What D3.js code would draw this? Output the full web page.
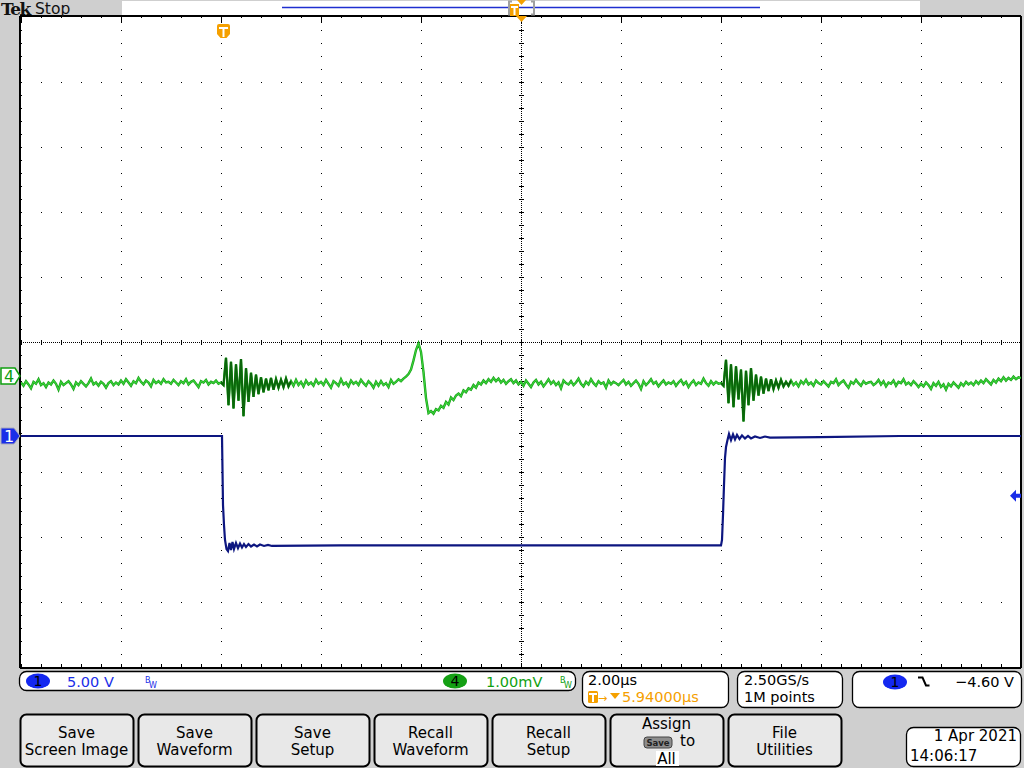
<!DOCTYPE html>
<html>
<head>
<meta charset="utf-8">
<script src="https://cdn.jsdelivr.net/npm/d3@7"></script>
<style>
  body { margin: 0; background: #cfcfcf; }
  svg { display: block; font-family: "DejaVu Sans", sans-serif; }
</style>
</head>
<body>
<div id="scope"></div>
<script>
// horizontal settings
var timePerDiv = 2.0;      // us / div
var timeOffset = 5.94;     // us, trigger to centre
var sampleRate = "2.50GS/s";
var recordLength = "1M points";

// channel settings
var ch1VoltsPerDiv = 5.0;
var ch1OffsetDiv = -1.446;
var ch4MvPerDiv = 1.0;
var ch4OffsetDiv = -0.523;
var triggerLevel = -4.60;

// channel 1 (V) vs time (us)
var ch1Time = [-4.06, -0.04, -0.02, 0.00, 0.02, 0.05, 0.08, 0.11, 0.14, 0.17, 0.20, 0.24, 0.28, 0.32, 0.36,
  0.40, 0.44, 0.49, 0.54, 0.60, 0.66, 0.72, 0.80, 0.88, 0.96, 2.32, 9.94, 9.96, 9.98, 10.00, 10.02, 10.04,
  10.07, 10.10, 10.14, 10.18, 10.22, 10.26, 10.31, 10.36, 10.42, 10.48, 10.54, 10.62, 10.72, 10.82, 10.92,
  11.92, 13.52, 15.94];
var ch1Volts = [0, 0, -5.31, -6.85, -8.00, -8.69, -8.85, -8.23, -8.77, -8.15, -8.69, -8.23, -8.62, -8.27, -8.58,
  -8.31, -8.54, -8.31, -8.50, -8.35, -8.50, -8.35, -8.46, -8.38, -8.46, -8.42, -8.42, -8.00, -6.08, -3.77, -1.69, -0.85,
  -0.31, 0.15, -0.31, 0.12, -0.27, 0.08, -0.23, 0.04, -0.19, 0.00, -0.19, -0.04, -0.15, -0.04, -0.12,
  -0.08, 0.00, 0.00];

// channel 4 (mV), evenly sampled
var ch4Start = -4.06;
var ch4Step = 0.05;
var ch4Mv = [
  -0.10,-0.15,-0.08,-0.13,-0.19,-0.09,-0.12,-0.05,-0.14,-0.11,-0.17,-0.10,-0.13,-0.07,-0.12,-0.21,-0.09,-0.14,-0.11,-0.08,
  -0.13,-0.20,-0.10,-0.14,-0.08,-0.12,-0.16,-0.11,-0.04,-0.13,-0.10,-0.15,-0.09,-0.12,-0.18,-0.11,-0.08,-0.14,-0.10,-0.13,
  -0.07,-0.12,-0.05,-0.10,-0.15,-0.08,-0.11,-0.03,-0.09,-0.13,-0.07,-0.10,-0.16,-0.06,-0.11,-0.08,-0.12,-0.05,-0.10,-0.09,
  -0.12,-0.06,-0.10,-0.14,-0.08,-0.11,-0.05,-0.13,-0.09,-0.07,-0.12,-0.17,-0.08,-0.10,-0.06,-0.13,-0.09,-0.11,-0.07,-0.12,
  -0.10,-0.14,0.28,-0.45,0.22,-0.50,0.18,-0.38,0.26,-0.62,0.12,-0.40,0.05,-0.32,0.02,-0.28,-0.02,-0.25,-0.04,-0.22,
  -0.03,-0.21,-0.05,-0.18,-0.06,-0.17,-0.04,-0.16,-0.08,-0.15,-0.06,-0.14,-0.09,-0.16,-0.07,-0.13,-0.10,-0.15,-0.06,-0.12,
  -0.09,-0.14,-0.06,-0.12,-0.18,-0.08,-0.11,-0.15,-0.05,-0.13,-0.10,-0.16,-0.07,-0.12,-0.09,-0.14,-0.06,-0.11,-0.15,-0.08,
  -0.12,-0.18,-0.09,-0.15,-0.08,-0.14,-0.11,-0.17,-0.06,-0.12,-0.09,-0.05,-0.08,-0.04,-0.01,0.03,0.10,0.24,0.40,0.50,
  0.37,0.06,-0.34,-0.57,-0.54,-0.58,-0.51,-0.53,-0.46,-0.49,-0.40,-0.44,-0.33,-0.37,-0.30,-0.27,-0.31,-0.22,-0.25,-0.19,
  -0.21,-0.14,-0.18,-0.10,-0.13,-0.07,-0.11,-0.05,-0.09,-0.03,-0.08,-0.04,-0.10,-0.06,-0.12,-0.08,-0.05,-0.11,-0.07,-0.13,
  -0.09,-0.15,-0.07,-0.12,-0.17,-0.10,-0.06,-0.13,-0.09,-0.16,-0.11,-0.05,-0.12,-0.08,-0.14,-0.10,-0.19,-0.07,-0.11,-0.13,
  -0.08,-0.14,-0.10,-0.04,-0.12,-0.16,-0.09,-0.13,-0.05,-0.11,-0.15,-0.08,-0.12,-0.10,-0.18,-0.07,-0.13,-0.09,-0.11,-0.14,
  -0.10,-0.06,-0.13,-0.09,-0.15,-0.11,-0.07,-0.12,-0.20,-0.08,-0.14,-0.10,-0.05,-0.12,-0.09,-0.16,-0.11,-0.07,-0.13,-0.10,
  -0.12,-0.08,-0.15,-0.10,-0.06,-0.13,-0.09,-0.17,-0.11,-0.07,-0.14,-0.10,-0.12,-0.04,-0.11,-0.15,-0.08,-0.13,-0.09,-0.12,
  -0.11,-0.15,0.25,-0.42,0.18,-0.48,0.15,-0.36,0.10,-0.70,0.08,-0.45,0.12,-0.38,0.02,-0.30,-0.01,-0.27,-0.04,-0.23,
  -0.05,-0.20,-0.07,-0.18,-0.06,-0.16,-0.09,-0.15,-0.07,-0.14,-0.10,-0.16,-0.08,-0.12,-0.06,-0.13,-0.10,-0.15,-0.07,-0.11,
  -0.13,-0.08,-0.12,-0.16,-0.09,-0.11,-0.05,-0.14,-0.10,-0.07,-0.13,-0.18,-0.09,-0.12,-0.06,-0.11,-0.15,-0.08,-0.12,-0.10,
  -0.09,-0.14,-0.11,-0.06,-0.13,-0.08,-0.16,-0.10,-0.12,-0.07,-0.15,-0.09,-0.11,-0.05,-0.13,-0.10,-0.14,-0.08,-0.12,-0.17,
  -0.12,-0.16,-0.10,-0.14,-0.20,-0.11,-0.15,-0.09,-0.17,-0.13,-0.21,-0.12,-0.16,-0.10,-0.14,-0.18,-0.11,-0.15,-0.09,-0.13,
  -0.10,-0.14,-0.08,-0.12,-0.07,-0.11,-0.05,-0.09,-0.13,-0.06,-0.10,-0.04,-0.08,-0.02,-0.07,-0.03,-0.06,-0.01,-0.05,-0.02,
  -0.03];
var ch4Bursts = [[80, 108], [280, 308]];   // sample index ranges drawn darker

var buttonLabels = [["Save", "Screen Image"], ["Save", "Waveform"], ["Save", "Setup"],
  ["Recall", "Waveform"], ["Recall", "Setup"], ["Assign", "to", "All"], ["File", "Utilities"]];
var dateText = ["1 Apr 2021", "14:06:17"];

var orange = "#f5a000", blue = "#1a2ee8", green = "#10a010";

// plot area (window.top is reserved, so use p* names)
var pLeft = 21, pRight = 1021, pTop = 17, pBottom = 667;
var divsX = 10, divsY = 10;
var cx = (pLeft + pRight) / 2, cy = (pTop + pBottom) / 2;

var x = d3.scaleLinear()
  .domain([timeOffset - timePerDiv * divsX / 2, timeOffset + timePerDiv * divsX / 2])
  .range([pLeft, pRight]);
var y1 = d3.scaleLinear()
  .domain([(-divsY / 2 - ch1OffsetDiv) * ch1VoltsPerDiv, (divsY / 2 - ch1OffsetDiv) * ch1VoltsPerDiv])
  .range([pBottom, pTop]);
var y4 = d3.scaleLinear()
  .domain([(-divsY / 2 - ch4OffsetDiv) * ch4MvPerDiv, (divsY / 2 - ch4OffsetDiv) * ch4MvPerDiv])
  .range([pBottom, pTop]);

var svg = d3.select("#scope").append("svg")
  .attr("width", 1024)
  .attr("height", 768);

svg.append("rect").attr("width", 1024).attr("height", 768).attr("fill", "#cfcfcf");

//Plot background
svg.append("rect")
  .attr("x", pLeft).attr("y", pTop - 1)
  .attr("width", pRight - pLeft).attr("height", pBottom - pTop + 1)
  .attr("fill", "#fff");

//Graticule dots
var grid = svg.append("g").attr("shape-rendering", "crispEdges").attr("fill", "#000");
d3.range(divsY + 1).forEach(function (k) {
  var gy = pTop + k * (pBottom - pTop) / divsY;
  grid.selectAll(null).data(d3.range(0, divsX * 5 + 1)).enter().append("rect")
    .attr("x", function (j) { return pLeft + j * (pRight - pLeft) / (divsX * 5); })
    .attr("y", gy).attr("width", 1).attr("height", 1);
});
d3.range(divsX + 1).forEach(function (k) {
  var gx = pLeft + k * (pRight - pLeft) / divsX;
  grid.selectAll(null).data(d3.range(0, divsY * 5 + 1)).enter().append("rect")
    .attr("x", gx).attr("y", function (j) { return pTop + j * (pBottom - pTop) / (divsY * 5); })
    .attr("width", 1).attr("height", 1);
});

//Centre cross
grid.append("line").attr("x1", pLeft).attr("x2", pRight).attr("y1", cy + 0.5).attr("y2", cy + 0.5)
  .attr("stroke", "#000").attr("stroke-dasharray", "1,1");
grid.append("line").attr("x1", cx + 0.5).attr("x2", cx + 0.5).attr("y1", pTop).attr("y2", pBottom)
  .attr("stroke", "#000").attr("stroke-dasharray", "1,1");
grid.selectAll(null).data(d3.range(0, divsX * 5 + 1)).enter().append("rect")
  .attr("x", function (j) { return pLeft + j * (pRight - pLeft) / (divsX * 5); })
  .attr("y", cy - 2).attr("width", 1).attr("height", 5);
grid.selectAll(null).data(d3.range(0, divsY * 5 + 1)).enter().append("rect")
  .attr("x", cx - 2).attr("y", function (j) { return pTop + j * (pBottom - pTop) / (divsY * 5); })
  .attr("width", 5).attr("height", 1);

//Edge ticks
grid.selectAll(null).data(d3.range(0, divsX * 5 + 1)).enter().append("rect")
  .attr("x", function (j) { return pLeft + j * (pRight - pLeft) / (divsX * 5); })
  .attr("y", pBottom - 3).attr("width", 1).attr("height", 3);
grid.selectAll(null).data(d3.range(0, divsX + 1)).enter().append("rect")
  .attr("x", function (j) { return pLeft + j * (pRight - pLeft) / divsX; })
  .attr("y", pTop).attr("width", 1).attr("height", 6);

//Frame
svg.append("g").attr("stroke", "#000").attr("stroke-width", 1.5).attr("shape-rendering", "crispEdges")
  .call(function (f) {
    f.append("line").attr("x1", pLeft - 1).attr("x2", pLeft - 1).attr("y1", pTop - 1).attr("y2", pBottom + 1);
    f.append("line").attr("x1", pRight).attr("x2", pRight).attr("y1", pTop - 1).attr("y2", pBottom + 1);
    f.append("line").attr("x1", pLeft - 1).attr("x2", pRight).attr("y1", pTop - 1).attr("y2", pTop - 1);
    f.append("line").attr("x1", pLeft - 1).attr("x2", pRight).attr("y1", pBottom + 1).attr("y2", pBottom + 1);
  });

//Traces
svg.append("clipPath").attr("id", "plotclip").append("rect")
  .attr("x", pLeft).attr("y", pTop).attr("width", pRight - pLeft).attr("height", pBottom - pTop);
var traces = svg.append("g").attr("clip-path", "url(#plotclip)");

var line4 = d3.line()
  .x(function (d) { return x(ch4Start + d.i * ch4Step); })
  .y(function (d) { return y4(d.v); });
var ch4Points = ch4Mv.map(function (v, i) { return {i: i, v: v}; });
traces.append("path")
  .attr("d", line4(ch4Points))
  .attr("fill", "none").attr("stroke", "#17a017").attr("stroke-width", 2.4);
traces.append("path")
  .attr("d", line4(ch4Points))
  .attr("fill", "none").attr("stroke", "#3ad23a").attr("stroke-width", 1.1);
ch4Bursts.forEach(function (r) {
  traces.append("path")
    .attr("d", line4(ch4Points.slice(r[0], r[1] + 1)))
    .attr("fill", "none").attr("stroke", "#0b650b").attr("stroke-width", 2);
});

var line1 = d3.line()
  .x(function (d) { return x(d[0]); })
  .y(function (d) { return y1(d[1]); });
traces.append("path")
  .attr("d", line1(d3.zip(ch1Time, ch1Volts)))
  .attr("fill", "none").attr("stroke", "#0d1680").attr("stroke-width", 2.2);

//Channel ground markers
var g4 = y4(0), g1 = y1(0);
svg.append("path")
  .attr("d", "M1," + (g4 - 8) + "h14l5,8l-5,8h-14z")
  .attr("fill", "#fff").attr("stroke", green).attr("stroke-width", 1.5);
svg.append("text").attr("x", 9).attr("y", g4 + 6).attr("text-anchor", "middle")
  .attr("font-size", 16).attr("fill", green).text("4");
svg.append("path")
  .attr("d", "M1," + (g1 - 8) + "h13l6,8l-6,8h-13z")
  .attr("fill", blue).attr("stroke", "#aab").attr("stroke-width", 1);
svg.append("text").attr("x", 9).attr("y", g1 + 6).attr("text-anchor", "middle")
  .attr("font-size", 16).attr("fill", "#fff").text("1");

//Trigger level arrow
var ty = y1(triggerLevel);
svg.append("path")
  .attr("d", "M" + (pRight - 11) + "," + ty + "l6,-6v4h5v4h-5v4z")
  .attr("fill", blue);

//Trigger position marker
var tx = Math.round(x(0)) - 1;
svg.append("path")
  .attr("d", "M" + (tx - 6) + ",26q0,-2 2,-2h9q2,0 2,2v8l-3.5,4h-6l-3.5,-4z")
  .attr("fill", orange);
svg.append("path")
  .attr("d", "M" + (tx - 4) + ",27h9v2h-3.5v8h-2v-8h-3.5z")
  .attr("fill", "#fff");

//Top bar: record view
svg.append("rect").attr("x", 122).attr("y", 1).attr("width", 798).attr("height", 14).attr("fill", "#fff");
svg.append("line").attr("x1", 282).attr("x2", 760).attr("y1", 7.5).attr("y2", 7.5)
  .attr("stroke", "#1f2fd0").attr("stroke-width", 1.5);
svg.append("path").attr("d", "M512,1.5h-3v13h3M531,1.5h3v13h-3")
  .attr("fill", "none").attr("stroke", "#a0a0a0").attr("stroke-width", 2);
svg.append("rect").attr("x", 510).attr("y", 4).attr("width", 9).attr("height", 12).attr("fill", orange);
svg.append("path").attr("d", "M511,6h7v2h-2.5v7h-2v-7h-2.5z").attr("fill", "#fff");
svg.append("path").attr("d", "M517,0h9l-4.5,5z").attr("fill", orange);
svg.append("path").attr("d", "M" + (cx - 5) + ",16h11l-5.5,6z").attr("fill", orange);

svg.append("text").attr("x", 1).attr("y", 15)
  .attr("font-family", "DejaVu Serif").attr("font-weight", "bold").attr("font-size", 17)
  .attr("letter-spacing", -1.5).attr("fill", "#111").text("Tek");
svg.append("text").attr("x", 35).attr("y", 14).attr("font-size", 15.5).attr("fill", "#111").text("Stop");

//Status readouts
function box(x0, y0, w, h) {
  return svg.append("rect").attr("x", x0 + 0.5).attr("y", y0 + 0.5).attr("width", w).attr("height", h)
    .attr("rx", 7).attr("fill", "#fff").attr("stroke", "#000").attr("stroke-width", 1.3);
}
function badge(bx, by, label, fill) {
  svg.append("ellipse").attr("cx", bx).attr("cy", by).attr("rx", 12).attr("ry", 7.5).attr("fill", fill);
  svg.append("text").attr("x", bx).attr("y", by + 5).attr("text-anchor", "middle")
    .attr("font-size", 14).attr("fill", "#000").text(label);
}
function bw(bx, col) {
  svg.append("text").attr("x", bx).attr("y", 683).attr("font-size", 8).attr("fill", col).text("B");
  svg.append("text").attr("x", bx + 4).attr("y", 688).attr("font-size", 8).attr("fill", col).text("W");
}

box(19, 671, 556, 19);
badge(38, 681, "1", "#1428f0");
svg.append("text").attr("x", 67).attr("y", 687).attr("font-size", 14.5).attr("fill", blue)
  .text(ch1VoltsPerDiv.toFixed(2) + " V");
bw(145, blue);
badge(455, 681, "4", "#14a014");
svg.append("text").attr("x", 486).attr("y", 687).attr("font-size", 14.5).attr("fill", green)
  .text(ch4MvPerDiv.toFixed(2) + "mV");
bw(560, green);

box(582, 671, 146, 36);
svg.append("text").attr("x", 588).attr("y", 685).attr("font-size", 14.5).attr("fill", "#000")
  .text(timePerDiv.toFixed(2) + "µs");
svg.append("rect").attr("x", 588).attr("y", 691).attr("width", 10).attr("height", 12).attr("rx", 1.5).attr("fill", orange);
svg.append("path").attr("d", "M589,693h8v2h-3v7h-2v-7h-3z").attr("fill", "#fff");
svg.append("text").attr("x", 598).attr("y", 702).attr("font-size", 11).attr("fill", orange).text("→");
svg.append("path").attr("d", "M610,693h10l-5,6z").attr("fill", orange);
svg.append("text").attr("x", 622).attr("y", 702).attr("font-size", 14.5).attr("fill", orange)
  .text(timeOffset.toFixed(5) + "µs");

box(737, 671, 105, 36);
svg.append("text").attr("x", 744).attr("y", 685).attr("font-size", 14.5).attr("fill", "#000").text(sampleRate);
svg.append("text").attr("x", 744).attr("y", 702).attr("font-size", 14.5).attr("fill", "#000").text(recordLength);

box(852, 671, 169, 36);
badge(895, 682, "1", "#1428f0");
svg.append("path").attr("d", "M918,677.5h4.5l3.5,8h3.5").attr("fill", "none").attr("stroke", "#000").attr("stroke-width", 2);
svg.append("text").attr("x", 1014).attr("y", 687).attr("text-anchor", "end").attr("font-size", 14.5)
  .attr("fill", "#000").text("\u2212" + Math.abs(triggerLevel).toFixed(2) + " V");

//Menu buttons
var buttons = svg.append("g");
buttonLabels.forEach(function (lab, i) {
  var bx = 20 + i * 118, bwid = 113;
  buttons.append("rect").attr("x", bx + 0.5).attr("y", 714.5).attr("width", bwid).attr("height", 52)
    .attr("rx", 6).attr("fill", "#e8e8e8").attr("stroke", "#000").attr("stroke-width", 2);
  var mid = bx + bwid / 2;
  if (lab.length === 2) {
    buttons.append("text").attr("x", mid).attr("y", 738).attr("text-anchor", "middle").attr("font-size", 15).text(lab[0]);
    buttons.append("text").attr("x", mid).attr("y", 755).attr("text-anchor", "middle").attr("font-size", 15).text(lab[1]);
  } else {
    buttons.append("text").attr("x", mid).attr("y", 729).attr("text-anchor", "middle").attr("font-size", 15).text(lab[0]);
    buttons.append("rect").attr("x", 644).attr("y", 737).attr("width", 28).attr("height", 11).attr("rx", 3)
      .attr("fill", "#8d8d8d").attr("stroke", "#444");
    buttons.append("text").attr("x", 658).attr("y", 746).attr("text-anchor", "middle").attr("font-size", 8.5)
      .attr("font-weight", "bold").attr("fill", "#222").text("Save");
    buttons.append("text").attr("x", 680).attr("y", 746).attr("font-size", 15).text(lab[1]);
    buttons.append("rect").attr("x", 656).attr("y", 751).attr("width", 23).attr("height", 15).attr("fill", "#fff");
    buttons.append("text").attr("x", mid).attr("y", 764).attr("text-anchor", "middle").attr("font-size", 15).text(lab[2]);
  }
});

//Date
box(906, 727, 114, 39);
svg.append("text").attr("x", 1017).attr("y", 741).attr("text-anchor", "end").attr("font-size", 15).text(dateText[0]);
svg.append("text").attr("x", 910).attr("y", 761).attr("font-size", 15).text(dateText[1]);
</script>
</body>
</html>
